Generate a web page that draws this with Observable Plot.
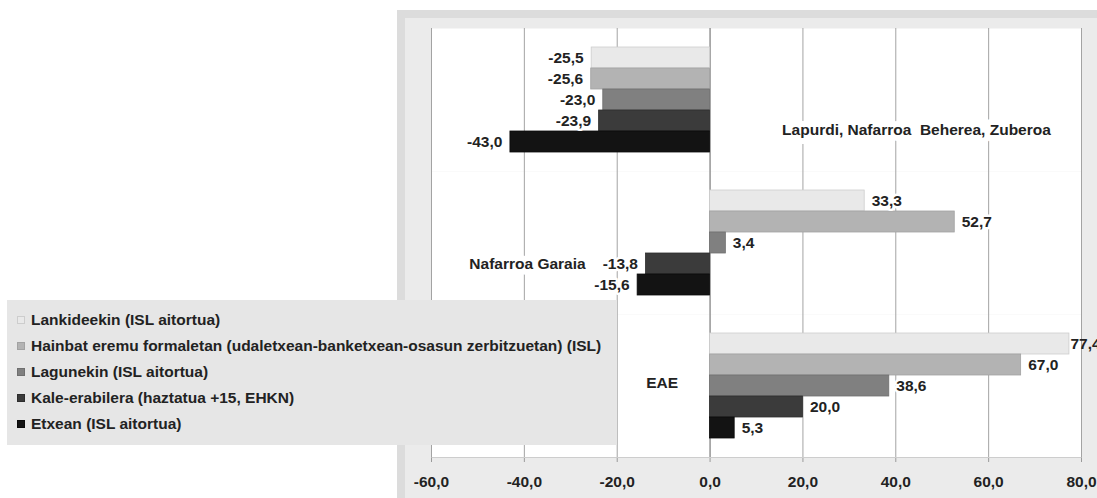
<!DOCTYPE html>
<html>
<head>
<meta charset="utf-8">
<script src="https://cdn.jsdelivr.net/npm/d3@7"></script>
<script src="https://cdn.jsdelivr.net/npm/@observablehq/plot@0.6"></script>
<style>
  html, body { margin: 0; padding: 0; background: #ffffff; }
  #wrap { position: relative; width: 1097px; height: 498px; overflow: hidden; font-family: "Liberation Sans", Arial, sans-serif; }
  #bgOuter { position: absolute; left: 397px; top: 10px; width: 700px; height: 488px; background: #dcdcdc; }
  #bgInner { position: absolute; left: 405px; top: 18px; width: 692px; height: 480px; background: #ebebeb; }
  #chart { position: absolute; left: 0; top: 0; }
  #chart svg text { fill: #222222; }
  #legend { position: absolute; left: 7px; top: 300px; width: 610px; height: 145px; background: #e6e6e6;
            box-sizing: border-box; padding-top: 7px; font-weight: bold; font-size: 15.5px; color: #222; }
  .item { height: 26px; line-height: 26px; display: flex; align-items: center; white-space: nowrap; }
  .sw { width: 8px; height: 8px; margin-left: 10px; margin-right: 6px; box-sizing: border-box; flex: none; }
</style>
</head>
<body>
<div id="wrap">
  <div id="bgOuter"></div>
  <div id="bgInner"></div>
  <div id="chart"></div>
  <div id="legend"></div>
</div>
<script>
// ---- data ----
const categories = ["Lapurdi, Nafarroa\u00a0 Beherea, Zuberoa", "Nafarroa Garaia", "EAE"];
const series = [
  "Lankideekin (ISL aitortua)",
  "Hainbat eremu formaletan (udaletxean-banketxean-osasun zerbitzuetan) (ISL)",
  "Lagunekin (ISL aitortua)",
  "Kale-erabilera (haztatua +15, EHKN)",
  "Etxean (ISL aitortua)"
];
const lapurdiValues = [-25.5, -25.6, -23.0, -23.9, -43.0];
const nafarroaGaraiaValues = [33.3, 52.7, 3.4, -13.8, -15.6];
const eaeValues = [77.4, 67.0, 38.6, 20.0, 5.3];
const xTicks = [-60, -40, -20, 0, 20, 40, 60, 80];

// ---- styles ----
const fillColors = ["#e9e9e9", "#b3b3b3", "#808080", "#3b3b3b", "#131313"];
const strokeColors = ["#cdcdcd", "#a2a2a2", "#6f6f6f", "#2d2d2d", "#0a0a0a"];
// category label layout: right end (x, data units), reference row, vertical offset
const labelX = [73.4, -26.8, -6.9];
const labelRow = [3, 3, 2];
const labelDy = [9, 0, -2.5];
const nearEdge = 75; // labels of bars beyond this value sit tight against the bar end

const valuesByCategory = [lapurdiValues, nafarroaGaraiaValues, eaeValues];
const data = [];
categories.forEach((c, ci) => series.forEach((s, si) => data.push({category: c, series: s, si, value: valuesByCategory[ci][si]})));

const fmt = d => d.toFixed(1).replace(".", ",");

const marks = [
  Plot.frame({fill: "white"}),
  Plot.ruleX(xTicks, {stroke: "#a3a3a3", strokeWidth: 1}),
  Plot.ruleX([0], {stroke: "#8c8c8c", strokeWidth: 1}),
  Plot.barX(data, {
    y: "series", x: "value",
    fill: d => fillColors[d.si], stroke: d => strokeColors[d.si], strokeWidth: 0.8
  }),
  Plot.text(data, {
    filter: d => d.value >= 0 && d.value < nearEdge, y: "series", x: "value", text: d => fmt(d.value),
    textAnchor: "start", dx: 7, fill: "#222", stroke: "white", strokeWidth: 5
  }),
  Plot.text(data, {
    filter: d => d.value >= nearEdge, y: "series", x: "value", text: d => fmt(d.value),
    textAnchor: "start", dx: 1, fill: "#222"
  }),
  Plot.text(data, {
    filter: d => d.value < 0, y: "series", x: "value", text: d => fmt(d.value),
    textAnchor: "end", dx: -8, fill: "#222", stroke: "white", strokeWidth: 5
  }),
  ...categories.map((c, i) => Plot.text(data, {
    filter: d => d.category === c && d.si === labelRow[i],
    y: "series", x: () => labelX[i], text: "category",
    textAnchor: "end", dy: labelDy[i], fill: "#222", stroke: "white", strokeWidth: 12
  }))
];

const svg = Plot.plot({
  width: 1097, height: 498,
  marginLeft: 431, marginRight: 16, marginTop: 27, marginBottom: 41,
  style: {background: "transparent", fontFamily: "'Liberation Sans', Arial, sans-serif", fontSize: "15.5px", fontWeight: "bold", color: "#9a9a9a", overflow: "visible"},
  facet: {data, y: "category"},
  fy: {domain: categories, padding: 0, axis: null, label: null},
  y: {domain: series, paddingInner: 0, paddingOuter: 0.76, axis: null},
  x: {domain: [-60, 80], ticks: xTicks, tickFormat: fmt, tickSize: 5, tickPadding: 13, line: true, label: null},
  color: {type: "identity"},
  marks
});
document.getElementById("chart").appendChild(svg);

// ---- legend ----
const legend = document.getElementById("legend");
series.forEach((s, i) => {
  const row = document.createElement("div");
  row.className = "item";
  const sw = document.createElement("span");
  sw.className = "sw";
  sw.style.background = fillColors[i];
  sw.style.border = "1px solid " + strokeColors[i];
  const t = document.createElement("span");
  t.textContent = s;
  row.appendChild(sw);
  row.appendChild(t);
  legend.appendChild(row);
});
</script>
</body>
</html>
